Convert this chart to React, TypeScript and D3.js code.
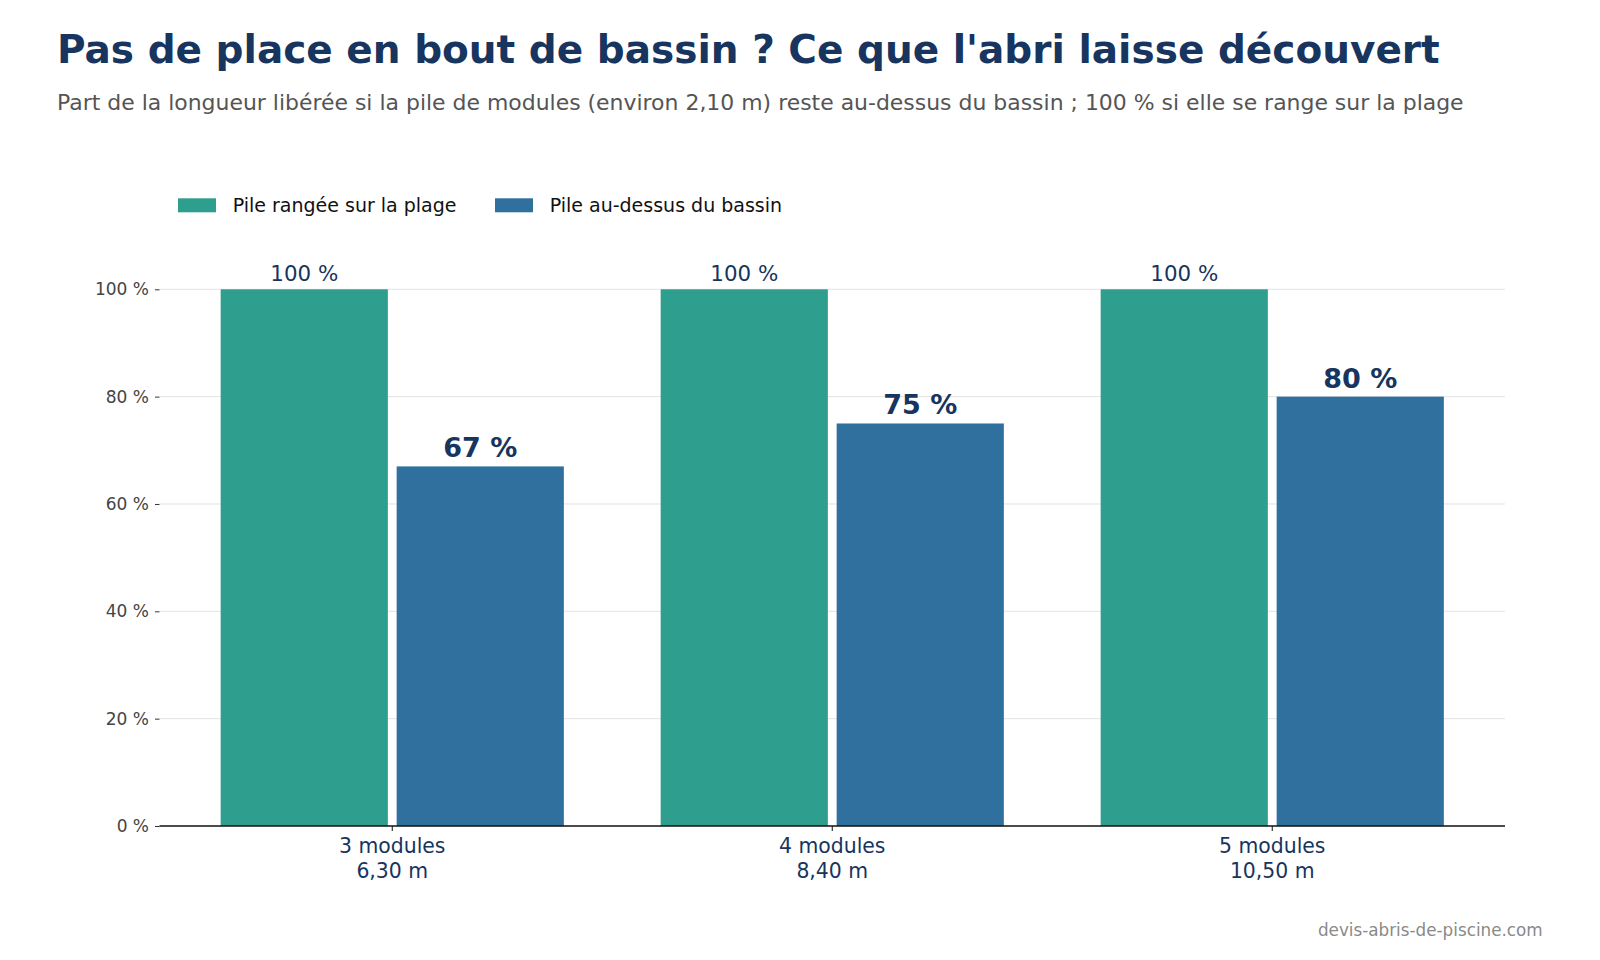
import React, { useEffect, useRef } from 'react';
import * as d3 from 'd3';

// Chart data
const categories = ['3 modules', '4 modules', '5 modules'];
const lengths = ['6,30 m', '8,40 m', '10,50 m'];
const seriesNames = ['Pile rangée sur la plage', 'Pile au-dessus du bassin'];
const plageValues = [100, 100, 100];
const bassinValues = [67, 75, 80];
const yTicks = [0, 20, 40, 60, 80, 100];

const title = "Pas de place en bout de bassin ? Ce que l'abri laisse découvert";
const subtitle =
  'Part de la longueur libérée si la pile de modules (environ 2,10 m) reste au-dessus du bassin ; 100 % si elle se range sur la plage';
const source = 'devis-abris-de-piscine.com';

const GREEN = '#2e9f8e';
const BLUE = '#30709e';
const NAVY = '#17355e';
const FONT = '"DejaVu Sans", sans-serif';

const App = () => {
  const ref = useRef<SVGSVGElement | null>(null);

  useEffect(() => {
    const svg = d3.select(ref.current);
    svg.selectAll('*').remove();

    const width = 1600;
    const height = 960;

    // Plot area
    const left = 159.5;
    const right = 1505;
    const top = 289.3;
    const bottom = 826;

    const x = d3.scaleLinear().domain([-0.529, 2.529]).range([left, right]);
    const y = d3.scaleLinear().domain([0, 100]).range([bottom, top]);

    const barWidth = x(0.38) - x(0);
    const offset = 0.2;

    svg.attr('width', width).attr('height', height);
    svg.append('rect').attr('width', width).attr('height', height).attr('fill', '#fff');

    // Title & subtitle
    svg.append('text')
      .attr('x', 57)
      .attr('y', 62.7)
      .attr('font-family', FONT)
      .attr('font-size', 39)
      .attr('font-weight', 'bold')
      .attr('fill', NAVY)
      .text(title);

    svg.append('text')
      .attr('x', 57)
      .attr('y', 110)
      .attr('font-family', FONT)
      .attr('font-size', 21.95)
      .attr('fill', '#555')
      .text(subtitle);

    // Legend
    const legendItems = [
      { name: seriesNames[0], color: GREEN, x: 178 },
      { name: seriesNames[1], color: BLUE, x: 495 }
    ];
    legendItems.forEach(item => {
      svg.append('rect')
        .attr('x', item.x)
        .attr('y', 198.3)
        .attr('width', 38)
        .attr('height', 14)
        .attr('fill', item.color);
      svg.append('text')
        .attr('x', item.x + 54.7)
        .attr('y', 211.7)
        .attr('font-family', FONT)
        .attr('font-size', 19)
        .attr('fill', '#111')
        .text(item.name);
    });

    const g = svg.append('g');

    // Gridlines
    g.selectAll('.grid')
      .data(yTicks.filter(t => t > 0))
      .enter()
      .append('line')
      .attr('x1', left)
      .attr('x2', right)
      .attr('y1', d => y(d))
      .attr('y2', d => y(d))
      .attr('stroke', '#e3e3e3')
      .attr('stroke-width', 1);

    // Y axis (no spine)
    const yAxis = g.append('g')
      .attr('transform', `translate(${left},0)`)
      .call(d3.axisLeft(y).tickValues(yTicks).tickSize(4.5).tickPadding(6).tickFormat(d => `${d} %`));
    yAxis.select('.domain').remove();
    yAxis.selectAll('.tick line').attr('stroke', '#333');
    yAxis.selectAll('.tick text')
      .attr('font-family', FONT)
      .attr('font-size', 17)
      .attr('fill', '#444');

    // Bars
    const series = [
      { values: plageValues, color: GREEN, shift: -offset },
      { values: bassinValues, color: BLUE, shift: offset }
    ];
    series.forEach(s => {
      g.selectAll(null)
        .data(s.values)
        .enter()
        .append('rect')
        .attr('x', (d, i) => x(i + s.shift) - barWidth / 2)
        .attr('y', d => y(d))
        .attr('width', barWidth)
        .attr('height', d => y(0) - y(d))
        .attr('fill', s.color);
    });

    // Value labels
    g.selectAll(null)
      .data(plageValues)
      .enter()
      .append('text')
      .attr('x', (d, i) => x(i - offset))
      .attr('y', d => y(d) - 8.3)
      .attr('text-anchor', 'middle')
      .attr('font-family', FONT)
      .attr('font-size', 21.4)
      .attr('fill', NAVY)
      .text(d => `${d} %`);

    g.selectAll(null)
      .data(bassinValues)
      .enter()
      .append('text')
      .attr('x', (d, i) => x(i + offset))
      .attr('y', d => y(d) - 9)
      .attr('text-anchor', 'middle')
      .attr('font-family', FONT)
      .attr('font-size', 27)
      .attr('font-weight', 'bold')
      .attr('fill', NAVY)
      .text(d => `${d} %`);

    // X axis
    g.append('line')
      .attr('x1', left)
      .attr('x2', right)
      .attr('y1', bottom)
      .attr('y2', bottom)
      .attr('stroke', '#111')
      .attr('stroke-width', 1.3);

    categories.forEach((c, i) => {
      g.append('line')
        .attr('x1', x(i))
        .attr('x2', x(i))
        .attr('y1', bottom)
        .attr('y2', bottom + 5)
        .attr('stroke', '#111');
      const t = g.append('text')
        .attr('text-anchor', 'middle')
        .attr('font-family', FONT)
        .attr('font-size', 20.4)
        .attr('fill', NAVY);
      t.append('tspan').attr('x', x(i)).attr('y', 853).text(c);
      t.append('tspan').attr('x', x(i)).attr('y', 878).text(lengths[i]);
    });

    // Source
    svg.append('text')
      .attr('x', 1542.7)
      .attr('y', 936)
      .attr('text-anchor', 'end')
      .attr('font-family', FONT)
      .attr('font-size', 16.8)
      .attr('fill', '#8a8a8a')
      .text(source);
  }, []);

  return (
    <svg
      ref={ref}
      style={{ position: 'absolute', left: 0, top: 0, display: 'block' }}
    />
  );
};

export default App;
